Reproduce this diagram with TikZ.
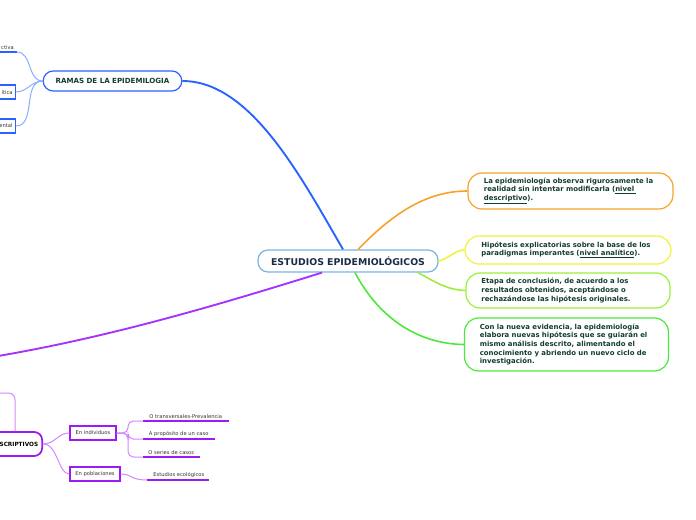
\documentclass[tikz,border=0pt]{standalone}
\usepackage{fontspec}
\setmainfont{DejaVu Sans}
\usetikzlibrary{calc}
\definecolor{txtgreen}{HTML}{123D2F}
\definecolor{navy}{HTML}{1C2B45}
\definecolor{cblue}{HTML}{7AB4E4}
\definecolor{mblue}{HTML}{2962FF}
\definecolor{lblue}{HTML}{8AAEFF}
\definecolor{orng}{HTML}{F7A32A}
\definecolor{yell}{HTML}{F2F23A}
\definecolor{lime}{HTML}{9CF03A}
\definecolor{grn}{HTML}{4CE83C}
\definecolor{purp}{HTML}{A532FF}
\definecolor{dpurp}{HTML}{9B1CF0}
\definecolor{lpurp}{HTML}{D08AFF}
\definecolor{leaftxt}{HTML}{333333}
\tikzset{
  central/.style={draw=cblue, line width=0.9pt, fill=white, rounded corners=7.5pt,
    minimum width=135pt, minimum height=16.5pt, inner sep=0pt,
    font=\bfseries\fontsize{7}{8}\selectfont, text=navy},
  branch/.style={draw=mblue, line width=0.9pt, fill=white, rounded corners=7.5pt,
    minimum width=104pt, minimum height=15pt, inner sep=0pt,
    font=\bfseries\fontsize{5.3}{6}\selectfont, text=txtgreen},
  idea/.style={line width=0.9pt, fill=white, rounded corners=10.5pt,
    text width=130pt, align=left, inner xsep=11.5pt, inner ysep=0pt,
    font=\bfseries\fontsize{5.2}{6.5}\selectfont, text=txtgreen},
  sbox/.style={draw=dpurp, line width=1.1pt, fill=white, inner sep=0pt,
    minimum height=10.5pt, font=\fontsize{3.9}{4.5}\selectfont, text=leaftxt},
  bbox/.style={draw=mblue, line width=1.1pt, fill=white, inner xsep=2pt, inner ysep=0pt,
    minimum height=10.5pt, text width=26pt, align=right,
    font=\fontsize{3.9}{4.5}\selectfont, text=leaftxt},
  leaf/.style={inner xsep=2.2pt, inner ysep=1.6pt, anchor=south west,
    font=\fontsize{3.9}{4.5}\selectfont, text=leaftxt},
  uline/.style={draw=dpurp, line width=1.1pt},
  bline/.style={draw=mblue, line width=1.1pt},
  lcon/.style={draw=lpurp, line width=0.75pt},
  bcon/.style={draw=lblue, line width=0.75pt},
}
\begin{document}
\begin{tikzpicture}[x=0.75pt,y=-0.75pt]
\useasboundingbox (0,0) rectangle (696,520);
\clip (0,0) rectangle (696,520);
\fill[white] (0,0) rectangle (696,520);

% off-screen targets
\coordinate (offL) at (-20,359);
\coordinate (offS) at (-10,393);
\coordinate (sx) at (15,0);

% main nodes
\node[central] (C) at (348,261) {ESTUDIOS EPIDEMIOLÓGICOS};
\node[branch] (R) at (112.5,81) {RAMAS DE LA EPIDEMILOGIA};

\node[idea, draw=orng, minimum width=153.75pt, minimum height=27pt] (N1) at (570.5,191)
  {La epidemiología observa rigurosamente la\\ realidad sin intentar modificarla (\underline{nivel }\\ \underline{descriptivo}).};
\node[idea, draw=yell, minimum width=154.5pt, minimum height=21pt] (N2) at (568,250)
  {Hipótesis explicatorias sobre la base de los\\ paradigmas imperantes (\underline{nivel analítico}).};
\node[idea, draw=lime, minimum width=153pt, minimum height=26.25pt] (N3) at (568,290.5)
  {Etapa de conclusión, de acuerdo a los\\ resultados obtenidos, aceptándose o\\ rechazándose las hipótesis originales.};
\node[idea, draw=grn, minimum width=152.25pt, minimum height=39.75pt] (N4) at (566.5,344.5)
  {Con la nueva evidencia, la epidemiología\\ elabora nuevas hipótesis que se guiarán el\\ mismo análisis descrito, alimentando el\\ conocimiento y abriendo un nuevo ciclo de\\ investigación.};

% main connectors
\draw[mblue, line width=1.4pt] (R.east) .. controls (250,81) and (300,175) .. ([xshift=-3.75pt]C.north);
\draw[orng, line width=1.2pt] ([xshift=7.5pt]C.north) .. controls (385,222) and (420,191) .. (N1.west);
\draw[yell, line width=1.2pt] (C.east) .. controls (450,258) and (455,250) .. (N2.west);
\draw[lime, line width=1.2pt] ([xshift=52.5pt]C.south) .. controls (440,285) and (450,290) .. (N3.west);
\draw[grn, line width=1.2pt] ([xshift=5.25pt]C.south) .. controls (380,320) and (420,344) .. (N4.west);
\draw[purp, line width=1.4pt] ([xshift=-19.5pt]C.south) .. controls (215,306) and (100,340) .. (offL);

% RAMAS children (clipped at left)
\node[leaf, anchor=south east, text width=26pt, align=right] (L1) at (17,52) {ctiva};
\draw[bline] (L1.south west) -- (L1.south east);
\node[bbox, anchor=east] (L2) at (16,92) {ítica};
\node[bbox, anchor=east] (L3) at (16,126) {ental};
\draw[bcon] (R.west) to[out=180,in=0] (L1.south east);
\draw[bcon] (R.west) to[out=180,in=0] (L2.east);
\draw[bcon] (R.west) to[out=180,in=0] (L3.east);

% DESCRIPTIVOS branch
\node[draw=dpurp, line width=1.3pt, fill=white, rounded corners=6pt, anchor=east,
  minimum height=18pt, text width=50pt, align=right, inner xsep=3pt, inner ysep=0pt,
  font=\bfseries\fontsize{4.3}{5}\selectfont, text=black] (S) at (43,444) {SCRIPTIVOS};
\draw[lcon, rounded corners=5pt] (S.north -| sx) |- (offS);

\node[sbox, minimum width=34.5pt] (E1) at (93,433) {En individuos};
\node[sbox, minimum width=37.5pt] (E2) at (95,474) {En poblaciones};
\draw[lcon] (S.east) .. controls (55,444) and (58,433) .. (E1.west);
\draw[lcon] (S.east) .. controls (58,444) and (58,474) .. (E2.west);

\node[leaf, minimum width=63.75pt] (T1) at (143,421) {O transversales-Prevalencia};
\node[leaf, minimum width=53.25pt] (T2) at (143,439) {A propósito de un caso};
\node[leaf, minimum width=42pt] (T3) at (143,457) {O series de casos};
\node[leaf, minimum width=45.75pt] (T4) at (147,480) {\hspace{1.5pt}Estudios ecológicos};
\foreach \n in {T1,T2,T3,T4} \draw[uline] (\n.south west) -- (\n.south east);

\coordinate (bx) at (128,0);
\draw[lcon, rounded corners=4pt] (E1.east) -- (E1.east -| bx) |- (T1.south west);
\draw[lcon, rounded corners=4pt] (E1.east) -- (E1.east -| bx) |- (T2.south west);
\draw[lcon, rounded corners=4pt] (E1.east) -- (E1.east -| bx) |- (T3.south west);
\draw[lcon] (E2.east) .. controls (132,474) and (130,480) .. (T4.south west);
\end{tikzpicture}
\end{document}
